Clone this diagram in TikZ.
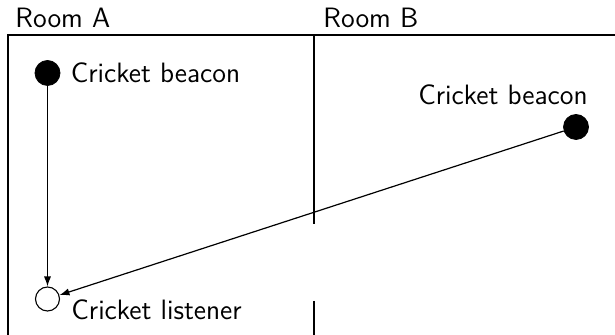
\documentclass[tikz,border=0pt]{standalone}
\usepackage{xcolor}
\usepackage{tikz}
\usetikzlibrary{arrows.meta, positioning, calc}
\definecolor{inkdark}{HTML}{000000}
\tikzset{
  lbl/.style={font=\fontsize{14}{16}\selectfont\sffamily, text=inkdark, inner sep=0pt},
  wall/.style={draw=inkdark, line width=0.75pt},
  beacon/.style={circle, fill=inkdark, draw=inkdark, minimum size=12.5pt, inner sep=0pt},
  listener/.style={circle, fill=white, draw=inkdark, line width=0.55pt, minimum size=12pt, inner sep=0pt},
  flow/.style={-{Latex[length=5pt, width=3.6pt]}, line width=0.6pt, color=inkdark},
}
\begin{document}
\begin{tikzpicture}[x=0.5pt, y=-0.5pt]
  \useasboundingbox (0,0) rectangle (615,335);
  % walls of the two rooms
  \draw[wall] (8,335) -- (8,35) -- (615,35);
  \draw[wall] (314,35) -- (314,224);
  \draw[wall] (314,301) -- (314,335);
  \node[lbl, anchor=base west] (roomA) at (15,28) {Room A};
  \node[lbl, anchor=base west] (roomB) at (323,28) {Room B};
  % beacons and listener
  \node[beacon] (bA) at (47.5,73) {};
  \node[lbl, right=5pt of bA] (bAlbl) {Cricket beacon};
  \node[beacon] (bB) at (576,127) {};
  \node[lbl, anchor=base east] (bBlbl) at (588,105) {Cricket beacon};
  \node[listener] (lis) at (47.5,299) {};
  \node[lbl, anchor=west] (lisLbl) at ($(lis.east)+(11,11)$) {Cricket listener};
  \draw[flow] (bA) -- (lis);
  \draw[flow] (bB) -- (lis);
\end{tikzpicture}
\end{document}
